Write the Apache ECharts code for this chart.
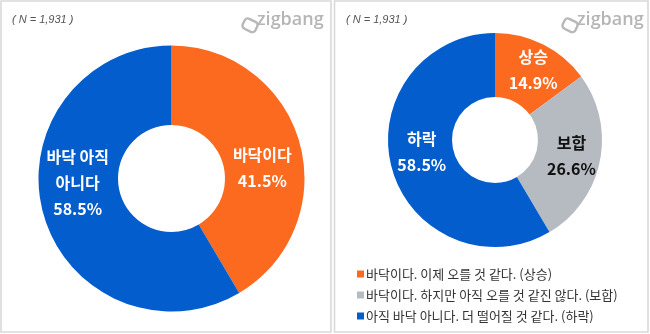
<!DOCTYPE html>
<html>
<head>
<meta charset="utf-8">
<script src="https://cdn.jsdelivr.net/npm/echarts@6/dist/echarts.min.js"></script>
<style>
html,body{margin:0;padding:0;background:#fff;}
#c{width:650px;height:334px;}
</style>
</head>
<body>
<div id="c"></div>
<script>
const leftNames = ['바닥이다', '바닥 아직 아니다'];
const leftLabels = ['바닥이다', '바닥 아직\n아니다'];
const leftValues = [41.5, 58.5];
const rightNames = ['바닥이다. 이제 오를 것 같다. (상승)', '바닥이다. 하지만 아직 오를 것 같진 않다. (보합)', '아직 바닥 아니다. 더 떨어질 것 같다. (하락)'];
const rightLabels = ['상승', '보합', '하락'];
const rightValues = [14.9, 26.6, 58.5];
const sampleText = '( N = 1,931 )';
const brandText = 'zigbang';

const ORANGE = '#FB6A1E', GRAY = '#B6BAC1', BLUE = '#035DCD';
const leftColors = [ORANGE, BLUE];
const rightColors = [ORANGE, GRAY, BLUE];
const rightLabelColors = ['#fff', '#111', '#fff'];
const FONT = '"Noto Sans CJK KR", "Noto Sans", sans-serif';

const leftOffsets = [[-2, 15], [-1, -21]];
const rightOffsets = [[3, 0], [0, 0], [2, -9]];

const chart = echarts.init(document.getElementById('c'));

function logo(x, y) {
  return [
    {type: 'rect', left: x, top: y + 4, shape: {width: 14, height: 11, r: 3.5}, rotation: -0.45,
     style: {fill: 'none', stroke: '#b8b8b8', lineWidth: 2.4}, z: 10},
    {type: 'text', left: x + 19, top: y + 1, style: {text: brandText, fill: '#b5b5b5', font: '600 18px "Open Sans", "DejaVu Sans", sans-serif'}, z: 10}
  ];
}

chart.setOption({
  animation: false,
  graphic: [
    {type: 'rect', shape: {x: 1, y: 1, width: 330, height: 331}, style: {fill: '#fff', stroke: '#d9d9d9', lineWidth: 1.6}, z: 0},
    {type: 'rect', shape: {x: 334.5, y: 1, width: 313.5, height: 331}, style: {fill: '#fff', stroke: '#d9d9d9', lineWidth: 1.6}, z: 0},
    {type: 'text', left: 12, top: 14, style: {text: sampleText, fill: '#555', font: 'italic 11px "Liberation Sans", Arial, sans-serif'}, z: 10},
    {type: 'text', left: 346, top: 14, style: {text: sampleText, fill: '#555', font: 'italic 11px "Liberation Sans", Arial, sans-serif'}, z: 10},
    ...logo(238, 10),
    ...logo(558, 10)
  ],
  legend: {
    orient: 'vertical',
    left: 352,
    top: 262,
    itemWidth: 7,
    itemHeight: 7,
    itemGap: 7,
    icon: 'rect',
    data: rightNames,
    selectedMode: false,
    textStyle: {fontFamily: FONT, fontSize: 13, color: '#333', lineHeight: 14, padding: [0, 0, 0, -3]}
  },
  series: [
    {
      type: 'pie',
      center: [171.5, 178.5],
      radius: [53.5, 133],
      startAngle: 90,
      clockwise: true,
      silent: true,
      data: leftNames.map((n, i) => ({name: n, value: leftValues[i], itemStyle: {color: leftColors[i]}})),
      label: {
        show: true,
        position: 'inside',
        fontFamily: FONT,
        fontWeight: 'bold',
        fontSize: 16,
        lineHeight: 26,
        color: '#fff',
        formatter: p => leftLabels[p.dataIndex] + '\n' + leftValues[p.dataIndex].toFixed(1) + '%'
      },
      labelLayout: p => ({dx: leftOffsets[p.dataIndex][0], dy: leftOffsets[p.dataIndex][1]}),
      labelLine: {show: false}
    },
    {
      type: 'pie',
      center: [495, 140],
      radius: [43, 107],
      startAngle: 90,
      clockwise: true,
      silent: true,
      data: rightNames.map((n, i) => ({name: n, value: rightValues[i], itemStyle: {color: rightColors[i]},
        label: {color: rightLabelColors[i]}})),
      label: {
        show: true,
        position: 'inside',
        fontFamily: FONT,
        fontWeight: 'bold',
        fontSize: 16,
        lineHeight: 26,
        formatter: p => rightLabels[p.dataIndex] + '\n' + rightValues[p.dataIndex].toFixed(1) + '%'
      },
      labelLayout: p => ({dx: rightOffsets[p.dataIndex][0], dy: rightOffsets[p.dataIndex][1]}),
      labelLine: {show: false}
    }
  ]
});
</script>
</body>
</html>
